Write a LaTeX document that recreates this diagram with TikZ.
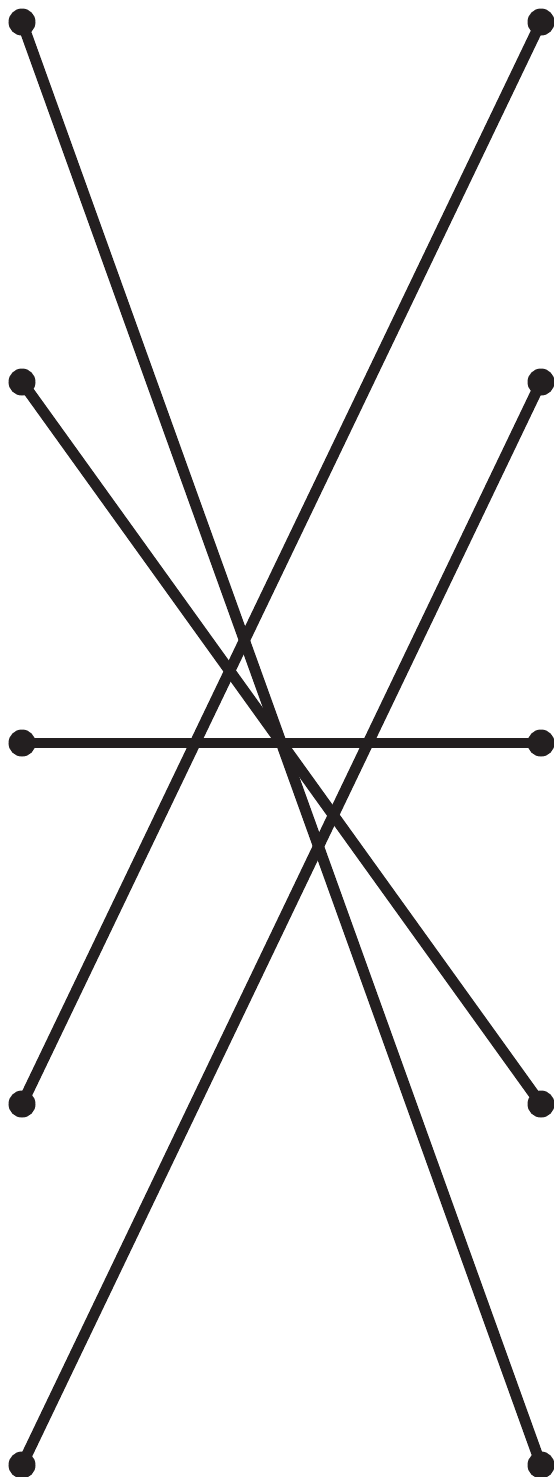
\documentclass[tikz,border=0pt]{standalone}
\usepackage{xcolor}
\usepackage{tikz}
\definecolor{inkdark}{HTML}{231F20}
\tikzset{
  bar/.style={draw=inkdark, line width=3.1pt},
  pin/.style={circle, fill=inkdark, inner sep=0pt, minimum size=0.27cm}
}
\begin{document}
\begin{tikzpicture}
\useasboundingbox (0,0) rectangle (5.53,-14.77);
\coordinate (l1) at (0.22,-0.22);
\coordinate (l2) at (0.22,-3.82);
\coordinate (l3) at (0.22,-7.43);
\coordinate (l4) at (0.22,-11.04);
\coordinate (l5) at (0.22,-14.65);
\coordinate (r1) at (5.41,-0.22);
\coordinate (r2) at (5.41,-3.82);
\coordinate (r3) at (5.41,-7.43);
\coordinate (r4) at (5.41,-11.04);
\coordinate (r5) at (5.41,-14.65);
\draw[bar] (l1) -- (r5);
\draw[bar] (r1) -- (l4);
\draw[bar] (l2) -- (r4);
\draw[bar] (r2) -- (l5);
\draw[bar] (l3) -- (r3);
\foreach \p in {l1,l2,l3,l4,l5,r1,r2,r3,r4,r5}
  \node[pin] (dot-\p) at (\p) {};
\end{tikzpicture}
\end{document}
